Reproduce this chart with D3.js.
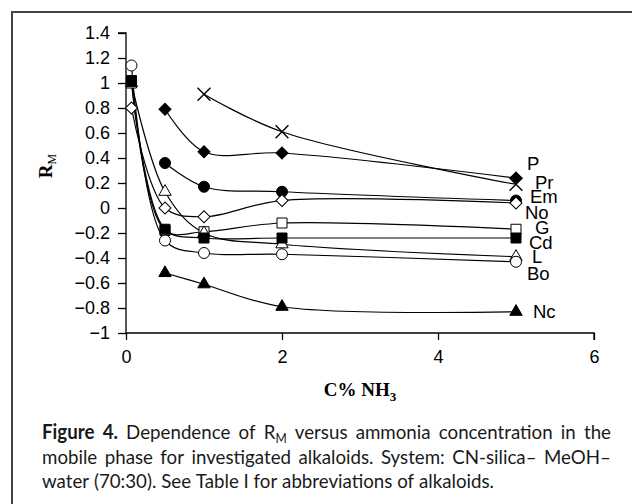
<!DOCTYPE html>
<html>
<head>
<meta charset="utf-8">
<script src="https://cdn.jsdelivr.net/npm/d3@7"></script>
<style>
  body { margin: 0; background: #fff; }
</style>
</head>
<body>
<script>
// concentration of NH3 (%)
const conc = [0.07, 0.5, 1, 2, 5];

// RM values for each alkaloid (null = no point)
const P  = [null, 0.79, 0.45, 0.44, 0.24];
const Pr = [null, null, 0.91, 0.61, 0.19];
const Em = [null, 0.36, 0.17, 0.13, 0.06];
const No = [0.80, 0.00, -0.07, 0.06, 0.04];
const G  = [1.00, -0.18, -0.19, -0.12, -0.17];
const L  = [1.00, 0.13, -0.20, -0.29, -0.39];
const Bo = [1.14, -0.26, -0.36, -0.37, -0.43];
const Cd = [1.02, -0.17, -0.24, -0.24, -0.24];
const Nc = [null, -0.52, -0.61, -0.79, -0.83];

const seriesNames = ["P", "Pr", "Em", "No", "G", "L", "Bo", "Cd", "Nc"];
const seriesValues = [P, Pr, Em, No, G, L, Bo, Cd, Nc];

const xTicks = [0, 2, 4, 6];
const xTickLabels = ["0", "2", "4", "6"];
const yTicks = [-1, -0.8, -0.6, -0.4, -0.2, 0, 0.2, 0.4, 0.6, 0.8, 1, 1.2, 1.4];
const yTickLabels = ["\u22121", "\u22120.8", "\u22120.6", "\u22120.4", "\u22120.2", "0", "0.2", "0.4", "0.6", "0.8", "1", "1.2", "1.4"];

// marker style for each series
const markers = {
  P:  { type: "diamond",  fill: "#000" },
  Pr: { type: "cross",    fill: "none" },
  Em: { type: "circle",   fill: "#000" },
  No: { type: "diamond",  fill: "#fff" },
  G:  { type: "square",   fill: "#fff" },
  L:  { type: "triangle", fill: "#fff" },
  Bo: { type: "circle",   fill: "#fff" },
  Cd: { type: "square",   fill: "#000" },
  Nc: { type: "triangle", fill: "#000" }
};
// label offset from the last point (px)
const labelShift = {
  P: [11, -15], Pr: [19, -2], Em: [14, -4], No: [9, 9], G: [19, -2],
  Cd: [13, 4], L: [16, 0], Bo: [11, 12], Nc: [17, 0]
};

const width = 632, height = 504;

const svg = d3.select("body")
  .append("svg")
  .attr("width", width)
  .attr("height", height)
  .style("background-color", "#fff");

// cadre de la figure
svg.append("path")
  .attr("d", "M12,504 L12,12 L632,12")
  .attr("fill", "none")
  .attr("stroke", "#444")
  .attr("stroke-width", 2);

const x = d3.scaleLinear().domain([0, 6]).range([126, 594]);
const y = d3.scaleLinear().domain([-1, 1.4]).range([333, 33]);

const tickFont = "'Liberation Sans', Arial, sans-serif";

// axes
const xAxis = svg.append("g")
  .attr("transform", `translate(0,${y(-1)})`)
  .call(d3.axisBottom(x).tickValues(xTicks).tickSize(7).tickPadding(10)
    .tickFormat((d, i) => xTickLabels[i]));

const yAxis = svg.append("g")
  .attr("transform", `translate(${x(0)},0)`)
  .call(d3.axisLeft(y).tickValues(yTicks).tickSize(8).tickPadding(8)
    .tickFormat((d, i) => yTickLabels[i]));

[xAxis, yAxis].forEach(a => {
  a.select(".domain").attr("stroke", "#000").attr("stroke-width", 1.3);
  a.selectAll(".tick line").attr("stroke", "#000").attr("stroke-width", 1.3);
  a.selectAll(".tick text")
    .attr("font-family", tickFont)
    .attr("font-size", 18)
    .attr("fill", "#000");
});
// la ligne de domaine s'arrête au bout des axes
xAxis.select(".domain").attr("d", `M${x(0)},0H${x(6)}V7`);
yAxis.select(".domain").attr("d", `M-8,${y(1.4)}H0V${y(-1)}`);

// titres des axes
const yTitle = svg.append("text")
  .attr("transform", "translate(52,166) rotate(-90)")
  .attr("text-anchor", "middle")
  .attr("font-family", "'Liberation Serif', 'Times New Roman', serif")
  .attr("font-weight", "bold")
  .attr("font-size", 19);
yTitle.append("tspan").text("R");
yTitle.append("tspan").attr("font-size", 12).attr("font-weight", "normal").attr("dy", 4).text("M");

const xTitle = svg.append("text")
  .attr("x", 360)
  .attr("y", 396)
  .attr("text-anchor", "middle")
  .attr("font-family", "'Liberation Serif', 'Times New Roman', serif")
  .attr("font-weight", "bold")
  .attr("font-size", 19);
xTitle.append("tspan").text("C% NH");
xTitle.append("tspan").attr("font-size", 13).attr("dy", 5).text("3");

// données en points
const series = seriesNames.map((name, i) => ({
  name: name,
  points: conc.map((c, j) => ({ x: c, v: seriesValues[i][j] })).filter(p => p.v !== null)
}));

const line = d3.line()
  .x(d => x(d.x))
  .y(d => y(d.v))
  .curve(d3.curveCatmullRom.alpha(0.5));

svg.append("g")
  .selectAll("path")
  .data(series)
  .enter()
  .append("path")
  .attr("d", d => line(d.points))
  .attr("fill", "none")
  .attr("stroke", "#000")
  .attr("stroke-width", 1.2);

// symboles
const symbolPath = {
  circle: d3.symbol().type(d3.symbolCircle).size(95)(),
  square: d3.symbol().type(d3.symbolSquare).size(100)(),
  triangle: d3.symbol().type(d3.symbolTriangle).size(66)(),
  diamond: d3.symbol().type(d3.symbolSquare).size(72)(),
  cross: d3.symbol().type(d3.symbolTimes).size(110)()
};

series.forEach(s => {
  const m = markers[s.name];
  svg.append("g")
    .selectAll("path")
    .data(s.points)
    .enter()
    .append("path")
    .attr("d", symbolPath[m.type])
    .attr("transform", d => `translate(${x(d.x)},${y(d.v)})` + (m.type === "diamond" ? " rotate(45)" : ""))
    .attr("fill", m.fill)
    .attr("stroke", "#000")
    .attr("stroke-width", m.type === "cross" ? 1.4 : 1);
});

// étiquettes à droite
series.forEach(s => {
  const last = s.points[s.points.length - 1];
  const sh = labelShift[s.name];
  svg.append("text")
    .attr("x", x(last.x) + sh[0])
    .attr("y", y(last.v) + sh[1])
    .attr("dy", "0.36em")
    .attr("font-family", tickFont)
    .attr("font-size", 18.5)
    .attr("fill", "#000")
    .text(s.name);
});

// légende de la figure (texte justifié, police condensée)
const capFont = "Lato, 'Open Sans', sans-serif";
const capLines = [
  [[["Figure", "b"]], [["4.", "b"]], [["Dependence"]], [["of"]], [["R"], ["M", "sub"]], [["versus"]], [["ammonia"]], [["concentration"]], [["in"]], [["the"]]],
  "mobile phase for investigated alkaloids. System: CN-silica\u2013 MeOH\u2013".split(" ").map(w => [[w]]),
  "water (70:30). See Table I for abbreviations of alkaloids.".split(" ").map(w => [[w]])
];
const capLeft = 42, capRight = 611, lastLineRight = 494, capTop = 439, capStep = 24.5;

const capSize = 20;
const rows = capLines.map((words, li) => {
  const g = svg.append("g");
  const nodes = words.map(word => {
    const t = g.append("text")
      .attr("font-family", capFont)
      .attr("font-size", capSize)
      .attr("fill", "#1a1a1a");
    word.forEach(seg => {
      const ts = t.append("tspan").text(seg[0]);
      if (seg[1] === "b") ts.attr("font-weight", "bold");
      if (seg[1] === "sub") ts.attr("font-size", 13).attr("dy", 4);
    });
    return t;
  });
  return { li, nodes, widths: nodes.map(n => n.node().getComputedTextLength()) };
});

// largeur d'un espace
const probe = svg.append("text").attr("font-family", capFont).attr("font-size", capSize).text("a a");
const probe2 = svg.append("text").attr("font-family", capFont).attr("font-size", capSize).text("aa");
const spaceW = probe.node().getComputedTextLength() - probe2.node().getComputedTextLength();
probe.remove(); probe2.remove();

// facteur de compression horizontale d'après la dernière ligne
const last = rows[rows.length - 1];
const natural = d3.sum(last.widths) + spaceW * (last.nodes.length - 1);
const k = (lastLineRight - capLeft) / natural;

rows.forEach(r => {
  const total = d3.sum(r.widths) * k;
  const justify = r.li < rows.length - 1;
  const gap = justify ? (capRight - capLeft - total) / (r.nodes.length - 1) : spaceW * k;
  let cx = capLeft;
  r.nodes.forEach((n, i) => {
    n.attr("transform", `translate(${cx},${capTop + r.li * capStep}) scale(${k},1)`);
    cx += r.widths[i] * k + gap;
  });
});
</script>
</body>
</html>
